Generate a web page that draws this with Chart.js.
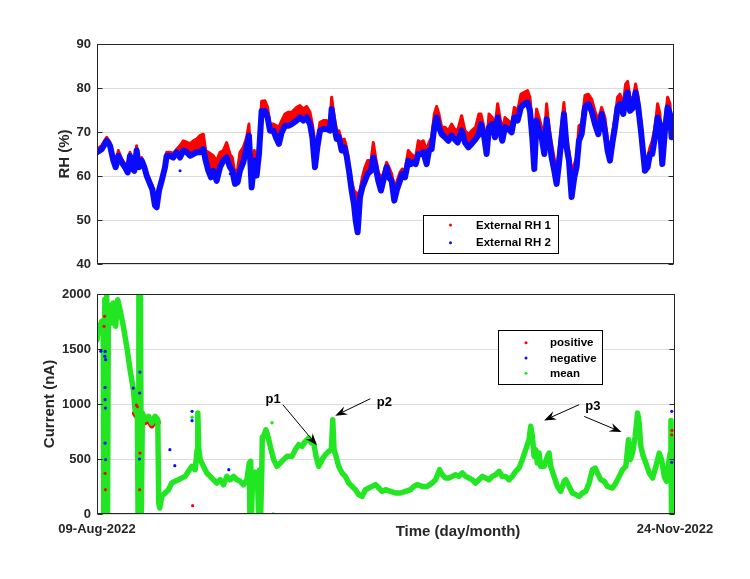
<!DOCTYPE html>
<html><head><meta charset="utf-8">
<script src="https://cdn.jsdelivr.net/npm/chart.js@4.4.1/dist/chart.umd.min.js"></script>
<style>
html,body{margin:0;padding:0;background:#fff;}
#wrap{position:relative;width:750px;height:579px;overflow:hidden;background:#fff;}
canvas{position:absolute;left:0;}
#c1{top:0;} #c2{top:280px;}
</style></head><body>
<div id="wrap"><canvas id="c1" width="750" height="290"></canvas><canvas id="c2" width="750" height="299"></canvas></div>
<script>
// ===== Top panel: external relative humidity (days since 09-Aug-2022) =====
const rhTime = [0,0.87,1.79,2.41,3.03,3.46,3.96,4.57,5.19,5.69,6.12,6.55,6.92,7.35,7.79,8.28,8.78,9.21,9.83,10.26,10.75,11.06,11.50,11.99,12.61,12.92,13.53,14.15,14.77,15.39,16.01,16.63,17.24,17.86,18.48,19.10,19.72,20.15,20.64,21.14,21.57,22.19,22.81,23.42,24.04,24.66,25.09,25.59,26.08,26.51,27.13,27.75,28.18,28.68,29.17,29.60,30.04,30.53,31.15,31.64,32.08,32.70,33.31,33.74,34.24,34.86,35.48,
36.10,37.02,37.64,38.26,38.88,39.50,39.93,40.42,40.86,41.35,41.97,42.59,43.20,43.51,44.01,44.44,44.87,45.37,45.86,46.29,46.73,47.22,47.65,47.96,48.33,48.77,49.20,49.69,50.19,50.81,51.24,51.67,52.17,52.66,53.09,53.71,54.14,54.64,55.13,55.57,56.18,56.62,57.11,57.73,58.22,58.65,59.09,59.58,60.08,60.51,61.13,61.56,62.05,62.55,62.98,63.41,63.91,64.53,65.14,65.76,66.26,66.87,67.62,68.24,68.86,69.47,70.21,70.83,
71.20,71.82,72.25,72.69,73.30,73.80,74.29,74.73,75.16,75.65,76.27,76.89,77.38,78.00,78.62,79.24,79.85,80.29,80.72,81.09,81.52,81.96,82.45,82.95,83.38,83.81,84.31,84.80,85.23,85.66,86.16,86.59,87.09,87.52,88.01,88.51,88.94,89.37,89.87,90.49,91.10,91.72,92.34,92.96,93.58,94.19,94.69,95.12,95.55,96.05,96.54,96.98,97.59,98.03,98.40,98.83,99.45,99.88,100.37,100.87,101.30,101.61,102.11,102.54,102.97,103.47,103.96,104.39,104.83,105.32,105.82,106.25,106.56,107.0];
const rh1 = [66.1,66.9,68.8,67.7,64.2,62.7,65.8,63.9,62.7,61.6,65.4,62.3,62.0,66.9,62.7,64.2,62.7,60.8,58.9,57.8,54.0,53.6,57.4,59.7,62.7,65.4,65.4,65.2,66.1,66.9,68.0,67.7,67.3,68.0,68.4,69.2,69.5,65.8,65.4,65.0,64.6,63.5,65.4,65.8,67.6,65.0,64.2,60.5,61.6,65.4,66.5,68.8,71.8,59.7,65.8,62.7,67.3,77.0,77.1,75.6,71.8,71.8,71.4,71.1,72.6,74.1,74.5,
74.5,75.6,76.0,75.2,75.8,74.5,71.8,67.6,68.0,72.2,72.6,72.6,72.2,77.9,73.3,70.3,70.3,68.0,68.4,66.5,62.7,58.9,56.7,56.3,55.9,56.7,59.7,62.0,63.5,63.5,67.6,64.2,60.8,59.7,60.5,63.1,62.0,60.5,57.4,58.6,60.8,61.6,61.2,65.8,65.0,64.6,64.2,68.0,67.6,68.0,65.8,67.6,68.8,74.1,75.8,74.1,71.1,71.1,70.3,71.8,70.7,70.3,73.7,70.3,69.5,70.3,71.1,74.1,
74.1,70.7,66.5,74.1,73.3,71.1,76.4,73.3,70.3,73.3,72.6,71.8,75.6,74.8,78.6,79.0,79.4,77.9,71.8,68.8,75.2,73.3,71.1,68.8,76.4,71.1,67.3,63.9,61.2,65.8,71.8,76.7,68.8,65.8,61.2,62.7,64.2,71.4,71.8,78.3,78.6,77.5,74.8,72.6,75.6,73.3,68.0,65.8,69.5,73.3,77.9,78.6,76.4,80.9,81.5,77.9,77.9,80.9,77.9,72.6,66.5,63.5,64.2,66.5,68.0,71.1,76.4,74.1,65.0,72.6,77.9,76.4,71.1,73.3];
const rh2 = [65.4,66.1,68.0,66.9,63.5,62.0,64.6,63.1,62.0,60.8,64.6,61.6,61.2,65.8,62.0,63.5,62.0,60.1,58.2,57.0,53.3,52.9,56.7,58.9,62.0,64.6,64.6,64.2,65.4,64.2,65.8,65.4,64.6,65.0,65.4,65.4,66.1,63.5,61.2,59.7,61.2,58.9,62.0,63.5,64.2,62.0,61.2,58.2,58.6,61.2,63.1,66.5,69.2,57.4,63.5,60.1,65.0,74.8,74.8,73.3,70.3,70.3,68.4,67.3,69.9,71.4,71.4,
71.8,72.6,73.3,72.6,73.3,71.8,68.8,62.0,66.5,70.3,70.7,70.7,70.3,75.2,71.1,68.4,68.8,65.8,66.5,64.6,61.2,56.7,53.6,50.0,47.2,55.2,57.4,58.9,60.5,61.2,64.2,62.0,58.9,56.7,58.9,62.0,59.7,58.9,54.4,56.7,58.9,60.5,59.7,63.5,62.7,63.1,62.7,65.0,65.0,65.4,62.7,65.8,66.1,71.1,73.3,71.1,69.5,68.8,68.0,69.2,68.4,67.6,70.3,67.6,66.5,67.3,68.4,69.5,
71.8,68.8,65.0,71.1,71.8,68.8,73.3,70.3,68.0,71.1,70.7,69.9,73.3,72.6,75.6,76.4,76.7,74.8,68.8,61.6,72.6,70.3,68.8,65.0,72.9,68.8,64.2,61.2,58.2,62.7,68.8,74.1,66.5,63.5,55.2,59.7,62.0,68.0,69.5,75.6,76.4,74.8,71.8,69.5,74.1,70.3,65.8,63.5,67.3,71.1,75.6,76.4,74.1,77.5,79.0,74.8,75.6,79.0,75.6,70.3,65.0,61.2,62.0,65.0,65.0,68.8,73.3,71.8,62.7,70.3,75.6,74.1,68.8,72.6];
const rh2OutTime = [15.4, 24.7];
const rh2OutVal = [61.2, 60.5];
const rhTicks = [40, 50, 60, 70, 80, 90];

// ===== Bottom panel: current (nA) =====
const curTime = [0,0.25,0.87,1.15,1.25,1.45,1.6,1.8,1.95,2.1,2.22,2.72,3.03,3.46,3.83,4.26,4.88,5.50,6.12,6.74,7.05,7.48,7.6,7.75,7.9,8.05,8.2,8.4,8.90,9.52,10.14,10.75,11.25,11.43,11.62,11.99,12.61,13.23,13.84,14.46,15.08,15.70,16.32,16.93,17.55,18.17,18.54,18.66,18.85,19.10,19.72,20.33,20.95,21.57,22.19,22.81,23.42,24.04,24.66,25.28,25.90,26.51,27.13,27.75,28.18,28.3,28.45,28.6,28.8,29.3,29.7,29.9,30.1,30.3,30.5,30.6,30.84,31.27,31.64,32.08,32.70,33.31,33.93,34.55,35.17,36.10,36.71,37.33,37.95,38.57,39.19,39.68,40.11,40.55,41.04,41.66,42.28,42.89,43.39,43.64,43.88,44.25,44.75,45.37,45.98,46.60,47.22,47.84,48.46,49.08,49.69,50.31,50.93,51.55,52.17,52.78,53.40,54.33,55.26,56.18,57.11,58.04,58.66,59.27,60.20,61.13,62.05,62.67,63.41,63.91,64.53,65.14,65.76,66.38,67.00,67.62,68.24,68.85,69.47,70.09,70.71,71.33,71.94,72.56,73.18,73.80,74.42,75.03,75.65,76.27,76.89,77.51,78.12,78.74,79.36,79.98,80.29,80.60,80.91,81.21,81.52,81.83,82.14,82.76,83.38,83.69,84.00,84.61,85.23,85.85,86.47,86.78,87.40,88.01,88.63,89.25,89.87,90.49,91.10,91.72,92.22,92.65,93.27,93.89,94.50,95.43,96.05,96.67,97.28,97.90,98.40,98.71,99.14,99.63,100.07,100.37,100.68,101.12,101.61,102.23,102.85,103.47,104.08,104.52,105.01,105.44,105.81,106.12,106.25,106.35,106.45,106.86,107];
const curMean = [1584,1675,1751,1760,0,1950,0,2000,0,1900,1827,1736,1918,1706,1948,1857,1706,1524,1312,1130,948,903,0,2000,0,2000,0,918,857,888,827,888,857,100,54,160,191,221,282,297,312,327,342,388,433,403,585,918,585,494,433,373,342,312,282,312,266,342,312,342,312,297,266,312,463,0,480,0,330,380,340,0,400,0,380,700,706,766,706,615,494,433,463,494,524,524,585,630,615,660,691,645,645,524,433,494,539,570,585,857,585,524,433,373,342,282,251,221,176,160,221,236,251,267,236,206,221,206,191,191,206,221,251,267,251,251,282,312,403,357,327,327,342,357,342,373,342,327,312,282,312,342,327,312,342,357,388,342,342,312,342,388,418,494,585,676,797,706,524,585,463,554,433,433,524,554,433,342,251,206,297,312,251,191,176,160,191,206,282,403,418,373,312,297,251,236,282,342,403,433,676,494,554,706,918,827,615,524,463,373,327,433,554,494,342,297,463,554,850,0,700,585,524];
const posSegTime = [7.05, 7.48, 8.4, 8.9, 9.52, 10.14, 10.75, 11.25];
const posSegVal = [915, 880, 895, 835, 865, 805, 865, 835];
const posOutTime = [1.4, 1.3, 1.55, 1.5, 7.9, 7.95, 7.3, 7.5, 17.7, 106.4, 106.45];
const posOutVal = [1797, 1706, 221, 370, 221, 554, 990, 975, 76, 720, 760];
const negOutTime = [1.5, 1.45, 1.6, 1.5, 1.55, 1.5, 1.6, 1.5, 0.7, 7.9, 7.95, 7.85, 6.7, 13.5, 14.4, 17.6, 17.6, 24.4, 106.4, 106.4];
const negOutVal = [1478, 1433, 1403, 1039, 963, 645, 494, 1150, 1480, 1100, 1290, 500, 1145, 585, 439, 933, 848, 403, 933, 470];
const meanOutTime = [32.4, 32.6, 17.6, 106.4];
const meanOutVal = [830, 0, 880, 0];
const curTicks = [0, 500, 1000, 1500, 2000];
const xTickDays = [0, 107];
const xTickLabels = ['09-Aug-2022', '24-Nov-2022'];

// annotations (data coordinates)
const annText = ['p1', 'p2', 'p3'];
const annTextX = [32.6, 53.2, 91.8];
const annTextY = [1039, 1012, 975];
const arrowFromX = [34.4, 50.6, 89.25, 90.2];
const arrowFromY = [994, 1048, 994, 887];
const arrowToX = [40.7, 44.1, 82.76, 97.1];
const arrowToY = [624, 894, 851, 745];

const FONT = '"Liberation Sans", Arial, Helvetica, sans-serif';
const AX = '#262626';
const RED = '#ff0000', BLUE = '#0a0aff', GREEN = '#22e622';

function pts(xs, ys) { return xs.map((x, i) => ({x: x, y: ys[i]})); }

function boxPlugin(o) {
  return {
    id: 'matlabBox',
    afterDatasetsDraw(chart) {
      const ctx = chart.ctx, a = chart.chartArea, y = chart.scales.y;
      ctx.save();
      ctx.strokeStyle = AX; ctx.lineWidth = 1;
      const L = Math.round(a.left) + 0.5, R = Math.round(a.right) - 0.5;
      const T = Math.round(a.top) + 0.5, B = Math.round(a.bottom) - 0.5;
      ctx.strokeRect(L, T, R - L, B - T);
      ctx.beginPath();
      y.ticks.forEach(t => {
        const py = Math.round(y.getPixelForValue(t.value)) + 0.5;
        ctx.moveTo(L, py); ctx.lineTo(L + 5, py);
        ctx.moveTo(R, py); ctx.lineTo(R - 5, py);
      });
      ctx.stroke();
      ctx.save();
      ctx.fillStyle = AX; ctx.font = 'bold 15px ' + FONT;
      ctx.translate(a.left - o.yTitleOff, (a.top + a.bottom) / 2);
      ctx.rotate(-Math.PI / 2);
      ctx.textAlign = 'center'; ctx.textBaseline = 'middle';
      ctx.fillText(o.yTitle, 0, 0);
      ctx.restore();
      if (o.xTitle) {
        ctx.fillStyle = AX; ctx.font = 'bold 15px ' + FONT;
        ctx.textAlign = 'center'; ctx.textBaseline = 'middle';
        ctx.fillText(o.xTitle, a.left + o.xTitleDx, a.bottom + o.xTitleDy);
      }
      const g = o.legend;
      const gx = a.left + g.dx, gy = a.top + g.dy;
      ctx.fillStyle = '#fff';
      ctx.fillRect(gx, gy, g.w, g.h);
      ctx.strokeStyle = '#000'; ctx.lineWidth = 1;
      ctx.strokeRect(Math.round(gx) + 0.5, Math.round(gy) + 0.5, Math.round(g.w), Math.round(g.h));
      ctx.font = 'bold 11.5px ' + FONT; ctx.textAlign = 'left'; ctx.textBaseline = 'middle';
      g.labels.forEach((lab, i) => {
        const ry = gy + g.row0 + i * g.step;
        ctx.fillStyle = g.colors[i];
        ctx.beginPath(); ctx.arc(gx + g.dotX, ry, 1.5, 0, Math.PI * 2); ctx.fill();
        ctx.fillStyle = '#000';
        ctx.fillText(lab, gx + g.textX, ry + 0.5);
      });
      ctx.restore();
    }
  };
}

const annPlugin = {
  id: 'annot',
  afterDatasetsDraw(chart) {
    const ctx = chart.ctx, x = chart.scales.x, y = chart.scales.y;
    ctx.save();
    ctx.fillStyle = '#000'; ctx.strokeStyle = '#000'; ctx.lineWidth = 1;
    ctx.font = 'bold 13px ' + FONT; ctx.textAlign = 'center'; ctx.textBaseline = 'middle';
    annText.forEach((s, i) => ctx.fillText(s, x.getPixelForValue(annTextX[i]), y.getPixelForValue(annTextY[i])));
    arrowFromX.forEach((_, i) => {
      const x0 = x.getPixelForValue(arrowFromX[i]), y0 = y.getPixelForValue(arrowFromY[i]);
      const x1 = x.getPixelForValue(arrowToX[i]), y1 = y.getPixelForValue(arrowToY[i]);
      const an = Math.atan2(y1 - y0, x1 - x0), c = Math.cos(an), s = Math.sin(an);
      const Lh = 12, W = 4.5, N = 8;
      const bx = x1 - Lh * c, by = y1 - Lh * s, nx = x1 - N * c, ny = y1 - N * s;
      ctx.beginPath(); ctx.moveTo(x0, y0); ctx.lineTo(nx, ny); ctx.stroke();
      ctx.beginPath(); ctx.moveTo(x1, y1);
      ctx.lineTo(bx + W * s, by - W * c);
      ctx.lineTo(nx, ny);
      ctx.lineTo(bx - W * s, by + W * c);
      ctx.closePath(); ctx.fill();
    });
    ctx.restore();
  }
};

function yScale(min, max, ticks) {
  return {
    type: 'linear', min: min, max: max,
    afterBuildTicks: s => { s.ticks = ticks.map(v => ({value: v})); },
    afterFit: s => { s.width = 97; },
    grid: {color: '#dcdcdc', lineWidth: 1, drawTicks: false},
    border: {display: false},
    ticks: {padding: 6, color: AX, font: {family: FONT, size: 13, weight: 'bold'}, callback: v => String(v)}
  };
}

const lineStyle = {borderJoinStyle: 'round', borderCapStyle: 'round', pointRadius: 0, fill: false};

const common = {
  responsive: false, animation: false, devicePixelRatio: 1,
  plugins: {legend: {display: false}, tooltip: {enabled: false}},
  elements: {point: {radius: 0}, line: {tension: 0}}
};

new Chart(document.getElementById('c1'), {
  type: 'line',
  data: {datasets: [
    Object.assign({}, lineStyle, {label: 'External RH 1', data: pts(rhTime, rh1), borderColor: RED, backgroundColor: RED, borderWidth: 3, fill: 1, order: 2}),
    Object.assign({}, lineStyle, {label: 'External RH 2', data: pts(rhTime, rh2), borderColor: BLUE, borderWidth: 6, order: 1}),
    {label: 'RH2 points', data: pts(rh2OutTime, rh2OutVal), showLine: false, pointRadius: 1.5, pointBackgroundColor: BLUE, pointBorderWidth: 0, order: 0}
  ]},
  options: Object.assign({}, common, {
    layout: {padding: {left: 0, top: 44, right: 76, bottom: 26}},
    scales: {
      x: {type: 'linear', min: 0, max: 107, display: false},
      y: yScale(40, 90, rhTicks)
    }
  }),
  plugins: [boxPlugin({yTitle: 'RH (%)', yTitleOff: 32,
    legend: {dx: 326, dy: 171, w: 135, h: 38, row0: 10, step: 17.7, dotX: 27.5, textX: 53,
      labels: ['External RH 1', 'External RH 2'], colors: [RED, BLUE]}})]
});

new Chart(document.getElementById('c2'), {
  type: 'line',
  data: {datasets: [
    Object.assign({}, lineStyle, {label: 'positive', data: pts(posSegTime, posSegVal), borderColor: RED, borderWidth: 6, order: 5}),
    Object.assign({}, lineStyle, {label: 'mean', data: pts(curTime, curMean), borderColor: GREEN, borderWidth: 5.5, order: 3}),
    {label: 'positive pts', data: pts(posOutTime, posOutVal), showLine: false, pointRadius: 1.6, pointBackgroundColor: RED, pointBorderWidth: 0, order: 2},
    {label: 'negative pts', data: pts(negOutTime, negOutVal), showLine: false, pointRadius: 1.6, pointBackgroundColor: BLUE, pointBorderWidth: 0, order: 1},
    {label: 'mean pts', data: pts(meanOutTime, meanOutVal), showLine: false, pointRadius: 1.8, pointBackgroundColor: GREEN, pointBorderWidth: 0, order: 0}
  ]},
  options: Object.assign({}, common, {
    layout: {padding: {left: 0, top: 14, right: 75, bottom: 0}},
    scales: {
      x: {
        type: 'linear', min: 0, max: 107,
        afterBuildTicks: s => { s.ticks = xTickDays.map(v => ({value: v})); },
        afterFit: s => { s.height = 65; },
        grid: {display: false, drawTicks: false},
        border: {display: false},
        ticks: {padding: 8, maxRotation: 0, autoSkip: false, color: AX,
          font: {family: FONT, size: 13, weight: 'bold'},
          callback: (v, i) => xTickLabels[i]}
      },
      y: yScale(0, 2000, curTicks)
    }
  }),
  plugins: [boxPlugin({yTitle: 'Current (nA)', yTitleOff: 47, xTitle: 'Time (day/month)', xTitleDx: 361, xTitleDy: 18,
    legend: {dx: 401.3, dy: 36, w: 104, h: 54.3, row0: 12.7, step: 15.3, dotX: 27.7, textX: 51.7,
      labels: ['positive', 'negative', 'mean'], colors: [RED, BLUE, GREEN]}}), annPlugin]
});
</script>
</body></html>
